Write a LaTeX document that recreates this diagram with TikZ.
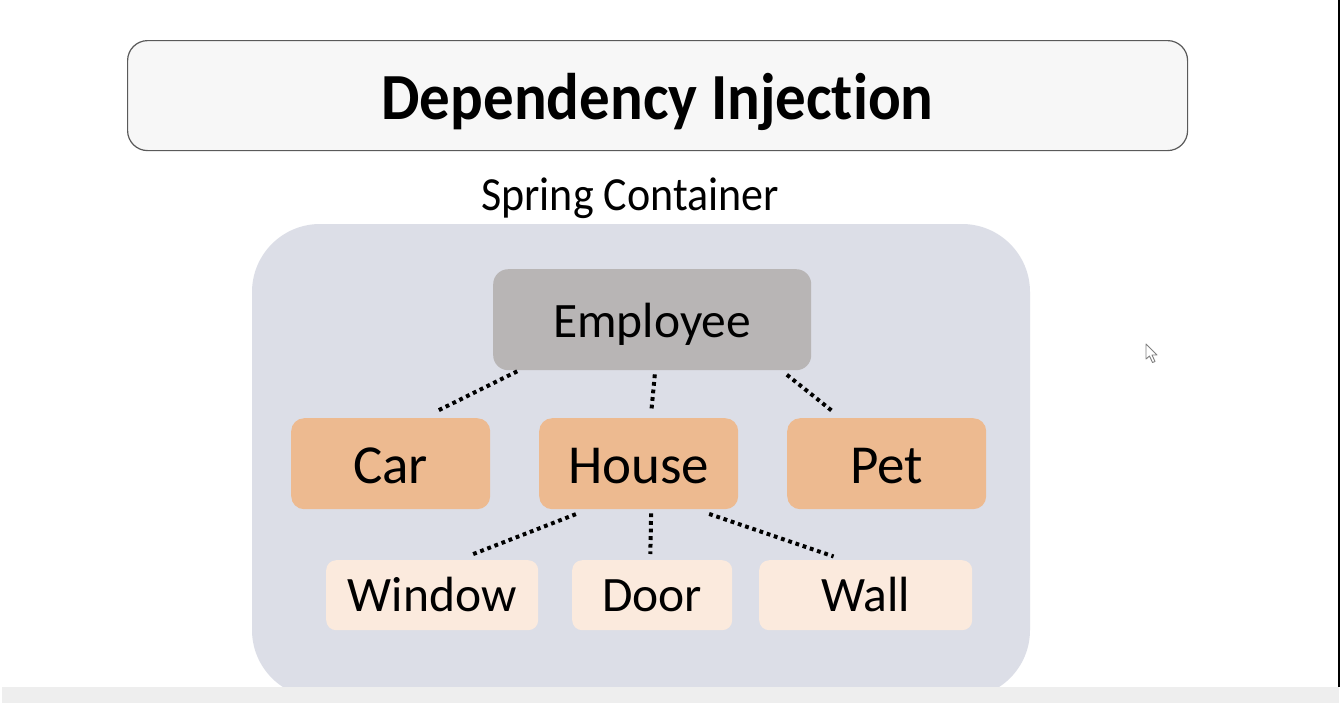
\documentclass[tikz,border=0pt]{standalone}
\usepackage{fontspec}
\setmainfont{Carlito}[Ligatures=NoCommon]
\definecolor{titlefill}{HTML}{F7F7F7}
\definecolor{titleline}{HTML}{5A5A5A}
\definecolor{contfill}{HTML}{DCDEE7}
\definecolor{empfill}{HTML}{B8B5B5}
\definecolor{midfill}{HTML}{EDBA90}
\definecolor{lowfill}{HTML}{FBEADD}
\definecolor{barfill}{HTML}{EEEEEE}
\tikzset{
  box/.style={rounded corners=#1, inner sep=0pt, anchor=north west},
  empbox/.style={box=15pt, fill=empfill, minimum width=318pt, minimum height=101pt, text height=35pt, text depth=0pt, font=\fontsize{49.5}{59}\selectfont},
  midbox/.style={box=13pt, fill=midfill, minimum width=199pt, minimum height=91pt, text height=39pt, text depth=0pt, font=\fontsize{55}{66}\selectfont},
  lowbox/.style={box=10pt, fill=lowfill, minimum height=70pt, text height=33pt, text depth=0pt, font=\fontsize{49.5}{59}\selectfont},
  dotline/.style={line width=4pt, dash pattern=on 3.8pt off 3.8pt, black},
}
\begin{document}
\begin{tikzpicture}[x=1pt,y=-1pt]
\useasboundingbox (0,0) rectangle (1342,702);
\fill[white] (0,0) rectangle (1342,702);
% title
\node[box=20pt, draw=titleline, line width=1.2pt, fill=titlefill, minimum width=1060pt, minimum height=110pt, text height=48pt, text depth=0pt, font=\fontsize{61}{73}\bfseries\selectfont] (title) at (127,40) {\scalebox{1}[1.08]{Dependency Injection}};
\node[font=\fontsize{44}{53}\selectfont, anchor=base, inner sep=0pt] (sc) at (630,210) {\scalebox{1}[1.08]{Spring Container}};
% container
\fill[contfill, rounded corners=68pt] (252,224) rectangle (1030,698);
% nodes
\node[empbox] (emp) at (493,269) {Employee};
\node[midbox] (car) at (291,418) {Car};
\node[midbox] (house) at (539,418) {House};
\node[midbox] (pet) at (787,418) {Pet};
\node[lowbox, minimum width=212pt] (win) at (326,560) {Window};
\node[lowbox, minimum width=160pt] (door) at (572,560) {Door};
\node[lowbox, minimum width=213pt] (wall) at (759,560) {Wall};
% connectors
\draw[dotline, shorten <=2pt, shorten >=14pt] ([xshift=26pt]emp.south west) -- ([xshift=132pt]car.north west);
\draw[dotline, shorten <=4pt, shorten >=6pt] ([xshift=3pt]emp.south) -- ([xshift=12pt]house.north);
\draw[dotline, shorten <=7pt, shorten >=10pt] ([xshift=-30pt]emp.south east) -- ([xshift=54pt]pet.north west);
\draw[dotline, shorten <=13pt, shorten >=13pt] ([xshift=49pt]house.south west) -- ([xshift=132pt]win.north west);
\draw[dotline, shorten <=4pt, shorten >=6pt] ([xshift=12.5pt]house.south) -- ([xshift=-2pt]door.north);
\draw[dotline, shorten <=14pt, shorten >=11pt] ([xshift=-42.5pt]house.south east) -- ([xshift=85pt]wall.north west);
% bottom bar and right edge
\fill[barfill] (2,687) rectangle (1339,702.5);
\draw[line width=1.5pt] (1339,0) -- (1339,687);
% cursor
\draw[fill=white, draw=gray, line width=0.9pt, line join=round] (1146,344) -- (1146,359) -- (1149.5,356) -- (1152.5,362.5) -- (1155,361.5) -- (1152,355) -- (1157,355) -- cycle;
\end{tikzpicture}
\end{document}
